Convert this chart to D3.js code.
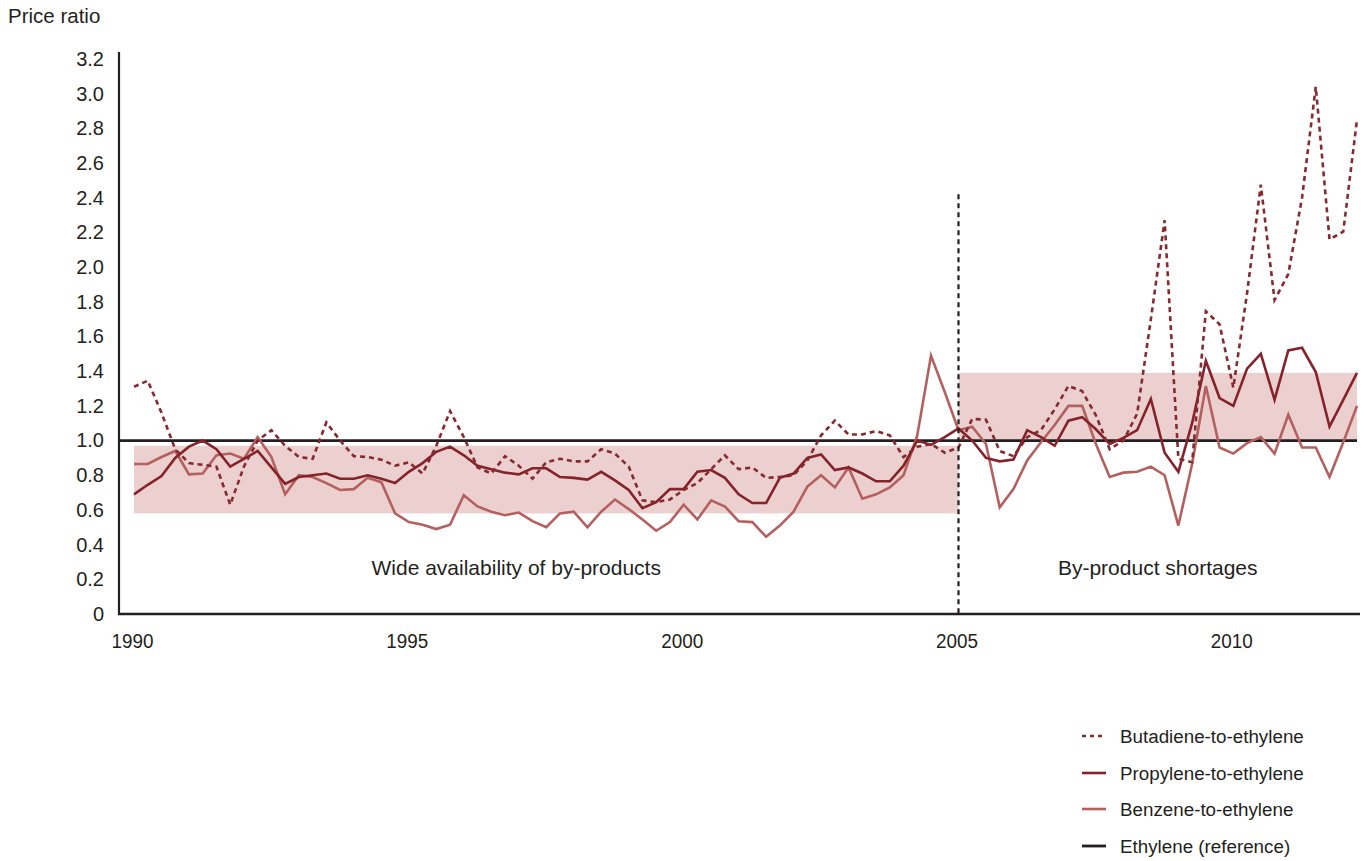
<!DOCTYPE html>
<html>
<head>
<meta charset="utf-8">
<script src="https://cdn.jsdelivr.net/npm/d3@7"></script>
<style>
  html, body { margin: 0; padding: 0; background: #fff; }
  svg { display: block; }
  text { font-family: "Liberation Sans", Arial, Helvetica, sans-serif; fill: #231f20; }
</style>
</head>
<body>
<svg id="chart" width="1367" height="861"></svg>
<script>
// ---- Data (quarterly, 1990 Q1 .. 2012 Q2) ----
const startYear = 1990;
const quarterCount = 90;
const butadiene = [
  1.31, 1.345, 1.16, 0.95, 0.87, 0.86, 0.85, 0.63, 0.85, 1.0,
  1.06, 0.97, 0.905, 0.895, 1.105, 1.0, 0.91, 0.905, 0.89, 0.855,
  0.875, 0.81, 0.97, 1.17, 1.02, 0.845, 0.81, 0.91, 0.855, 0.78,
  0.875, 0.895, 0.88, 0.88, 0.95, 0.925, 0.85, 0.655, 0.645, 0.66,
  0.715, 0.755, 0.835, 0.915, 0.835, 0.845, 0.785, 0.79, 0.80, 0.885,
  1.03, 1.115, 1.035, 1.035, 1.055, 1.03, 0.905, 0.965, 0.98, 0.93,
  0.96, 1.125, 1.12, 0.94, 0.91, 1.02, 1.06, 1.18, 1.315, 1.285,
  1.145, 0.95, 1.0, 1.155, 1.70, 2.27, 0.895, 0.875, 1.745, 1.67,
  1.305, 1.85, 2.475, 1.81, 1.96, 2.40, 3.04, 2.16, 2.205, 2.85
];
const propylene = [
  0.69, 0.745, 0.795, 0.90, 0.965, 1.0, 0.95, 0.85, 0.895, 0.94,
  0.845, 0.75, 0.79, 0.80, 0.81, 0.78, 0.78, 0.80, 0.78, 0.755,
  0.82, 0.87, 0.935, 0.965, 0.915, 0.855, 0.835, 0.815, 0.805, 0.84,
  0.84, 0.79, 0.785, 0.775, 0.82, 0.77, 0.715, 0.61, 0.645, 0.72,
  0.72, 0.82, 0.83, 0.785, 0.69, 0.64, 0.64, 0.785, 0.81, 0.90,
  0.92, 0.83, 0.845, 0.81, 0.765, 0.765, 0.855, 1.0, 0.975, 1.02,
  1.07, 1.0, 0.90, 0.88, 0.89, 1.06, 1.02, 0.97, 1.115, 1.135,
  1.065, 0.98, 1.015, 1.06, 1.24, 0.93, 0.82, 1.10, 1.46, 1.245,
  1.20, 1.415, 1.50, 1.235, 1.52, 1.535, 1.395, 1.08, 1.235, 1.39
];
const benzene = [
  0.865, 0.865, 0.905, 0.94, 0.805, 0.81, 0.915, 0.925, 0.895, 1.02,
  0.905, 0.69, 0.80, 0.79, 0.755, 0.715, 0.72, 0.785, 0.76, 0.58,
  0.53, 0.515, 0.49, 0.515, 0.685, 0.62, 0.59, 0.57, 0.585, 0.535,
  0.50, 0.58, 0.59, 0.50, 0.59, 0.66, 0.605, 0.545, 0.48, 0.53,
  0.63, 0.545, 0.655, 0.62, 0.535, 0.53, 0.445, 0.51, 0.59, 0.735,
  0.80, 0.73, 0.845, 0.665, 0.69, 0.73, 0.80, 1.03, 1.49, 1.28,
  1.06, 1.08, 0.98, 0.615, 0.72, 0.885, 0.99, 1.09, 1.20, 1.20,
  0.98, 0.79, 0.815, 0.82, 0.85, 0.80, 0.51, 0.865, 1.315, 0.96,
  0.925, 0.985, 1.02, 0.925, 1.15, 0.96, 0.96, 0.79, 0.99, 1.20
];
const ethyleneRef = 1.0;
const yTicks = [0, 0.2, 0.4, 0.6, 0.8, 1.0, 1.2, 1.4, 1.6, 1.8, 2.0, 2.2, 2.4, 2.6, 2.8, 3.0, 3.2];
const xTicks = [1990, 1995, 2000, 2005, 2010];
const bands = [
  { from: 1990, to: 2005, low: 0.58, high: 0.97, label: "Wide availability of by-products" },
  { from: 2005, to: 2012.25, low: 1.0, high: 1.39, label: "By-product shortages" }
];
const dividerYear = 2005;
const dividerTop = 2.42;
const yLabel = "Price ratio";
const legendItems = [
  { name: "Butadiene-to-ethylene", key: "butadiene" },
  { name: "Propylene-to-ethylene", key: "propylene" },
  { name: "Benzene-to-ethylene", key: "benzene" },
  { name: "Ethylene (reference)", key: "ethylene" }
];

// ---- Styles ----
const styles = {
  butadiene: { color: "#862a2f", width: 2.6, dash: "5,4" },
  propylene: { color: "#85222a", width: 2.6, dash: null },
  benzene:   { color: "#b4605f", width: 2.6, dash: null },
  ethylene:  { color: "#231f20", width: 2.8, dash: null }
};

const svg = d3.select("#chart");
const x = d3.scaleLinear().domain([1990, 2012.25]).range([134, 1357]);
const y = d3.scaleLinear().domain([0, 3.2]).range([614, 59]);

const dates = d3.range(quarterCount).map(i => startYear + i / 4);

// bands
svg.append("g").selectAll("rect").data(bands).join("rect")
  .attr("x", d => x(d.from))
  .attr("width", d => x(d.to) - x(d.from))
  .attr("y", d => y(d.high))
  .attr("height", d => y(d.low) - y(d.high))
  .attr("fill", "#ebd0cf");

// ethylene reference
svg.append("line")
  .attr("x1", 119).attr("x2", x(2012.25))
  .attr("y1", y(ethyleneRef)).attr("y2", y(ethyleneRef))
  .attr("stroke", styles.ethylene.color).attr("stroke-width", styles.ethylene.width);

const line = d3.line().x((d, i) => x(dates[i])).y(d => y(d));
const series = [
  { key: "benzene", values: benzene },
  { key: "propylene", values: propylene },
  { key: "butadiene", values: butadiene }
];
svg.append("g").selectAll("path").data(series).join("path")
  .attr("d", d => line(d.values))
  .attr("fill", "none")
  .attr("stroke", d => styles[d.key].color)
  .attr("stroke-width", d => styles[d.key].width)
  .attr("stroke-dasharray", d => styles[d.key].dash)
  .attr("stroke-linejoin", "miter");

// divider
svg.append("line")
  .attr("x1", x(dividerYear)).attr("x2", x(dividerYear))
  .attr("y1", y(dividerTop)).attr("y2", y(0))
  .attr("stroke", "#231f20").attr("stroke-width", 2.2).attr("stroke-dasharray", "5,4");

// band labels
svg.append("g").selectAll("text").data(bands).join("text")
  .attr("x", d => (x(d.from) + x(d.to)) / 2 + (d.from === 1990 ? -30 : 0))
  .attr("y", 575)
  .attr("text-anchor", "middle")
  .attr("font-size", 21)
  .text(d => d.label);

// axes
const yAxis = d3.axisLeft(y).tickValues(yTicks).tickSize(0).tickPadding(15)
  .tickFormat(d => d === 0 ? "0" : d3.format(".1f")(d));
const gy = svg.append("g").attr("transform", "translate(119,0)").call(yAxis);
gy.select(".domain").remove();
gy.selectAll("text").attr("font-size", 20).attr("fill", "#231f20")
  .style("font-family", "'Liberation Sans', Arial, sans-serif");
svg.append("line").attr("x1", 119).attr("x2", 119).attr("y1", 52).attr("y2", 615)
  .attr("stroke", "#231f20").attr("stroke-width", 2.2);

const xAxis = d3.axisBottom(x).tickValues(xTicks).tickSize(0).tickPadding(0).tickFormat(d3.format("d"));
const gx = svg.append("g").attr("transform", "translate(-2,614)").call(xAxis);
gx.select(".domain").remove();
gx.selectAll("text")
  .attr("y", 0).attr("dy", 0)
  .attr("transform", "translate(0,34) scale(0.9,1)")
  .attr("font-size", 21).attr("fill", "#231f20");
svg.append("line").attr("x1", 118).attr("x2", 1360).attr("y1", 614).attr("y2", 614)
  .attr("stroke", "#231f20").attr("stroke-width", 2.6);

svg.append("text").attr("x", 8).attr("y", 23).attr("font-size", 20.5).text(yLabel);

// legend
const lg = svg.append("g").selectAll("g").data(legendItems).join("g")
  .attr("transform", (d, i) => `translate(1082, ${[736, 773, 809, 846][i]})`);
lg.append("line")
  .attr("x1", 0).attr("x2", 24).attr("y1", 0).attr("y2", 0)
  .attr("stroke", d => styles[d.key].color)
  .attr("stroke-width", d => d.key === "ethylene" ? 2.8 : 2.6)
  .attr("stroke-dasharray", d => styles[d.key].dash ? "4,4" : null);
lg.append("text").attr("x", 38).attr("y", 7).attr("font-size", 18.8).text(d => d.name);
</script>
</body>
</html>
